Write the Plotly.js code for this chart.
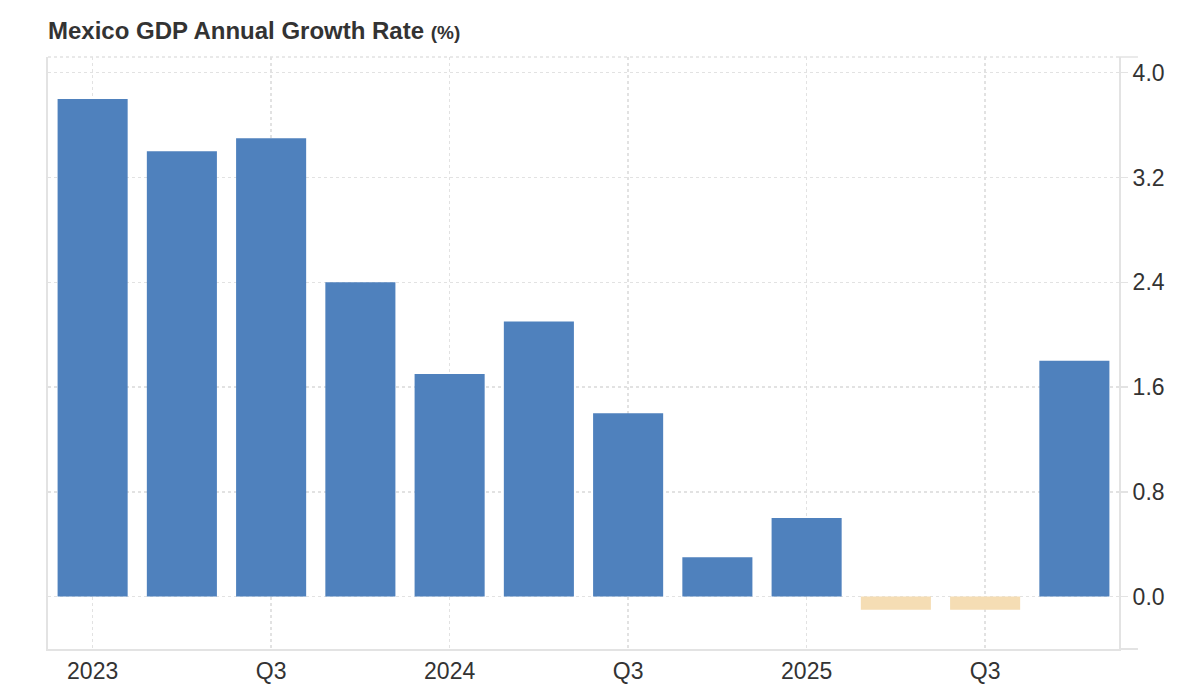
<!DOCTYPE html>
<html>
<head>
<meta charset="utf-8">
<script src="https://cdn.plot.ly/plotly-3.0.1.min.js"></script>
<style>
html,body{margin:0;padding:0;background:#fff;}
#chart{width:1200px;height:688px;}
</style>
</head>
<body>
<div id="chart"></div>
<script>
const quarters = ['2023 Q1','2023 Q2','2023 Q3','2023 Q4','2024 Q1','2024 Q2','2024 Q3','2024 Q4','2025 Q1','2025 Q2','2025 Q3','2025 Q4'];
const growth = [3.8, 3.4, 3.5, 2.4, 1.7, 2.1, 1.4, 0.3, 0.6, -0.1, -0.1, 1.8];
const tickQuarters = ['2023 Q1','2023 Q3','2024 Q1','2024 Q3','2025 Q1','2025 Q3'];
const tickLabels = ['2023','Q3','2024','Q3','2025','Q3'];
const yTicks = [0, 0.8, 1.6, 2.4, 3.2, 4.0];

const posColor = '#4F81BD';
const negColor = '#F5DDB4';
const gridC = '#e2e2e2';
const lineC = '#e3e3e3';

const trace = {
  type: 'bar',
  x: quarters,
  y: growth,
  marker: {color: growth.map(v => v < 0 ? negColor : posColor), line: {width: 0}},
  hoverinfo: 'x+y'
};

const layout = {
  width: 1200, height: 688,
  margin: {l: 48, r: 81, t: 57, b: 39},
  paper_bgcolor: '#fff', plot_bgcolor: '#fff',
  bargap: 0.215,
  showlegend: false,
  font: {family: 'Liberation Sans, Arial, sans-serif', color: '#333', size: 23},
  title: {
    text: '<b>Mexico GDP Annual Growth Rate</b> <b><span style="font-size:19px">(%)</span></b>',
    x: 0, xref: 'paper', xanchor: 'left',
    y: 1, yref: 'container', yanchor: 'top', pad: {t: 22},
    font: {family: 'Liberation Sans, Arial, sans-serif', size: 24, color: '#333'}
  },
  xaxis: {
    type: 'category',
    tickmode: 'array', tickvals: tickQuarters, ticktext: tickLabels,
    showgrid: true, gridcolor: gridC, griddash: 'dot', gridwidth: 1.5,
    showline: true, linecolor: lineC, linewidth: 2,
    ticks: '', ticklabelstandoff: 0,
    zeroline: false, fixedrange: true
  },
  yaxis: {
    side: 'right',
    range: [-0.4, 4.12],
    tickmode: 'array', tickvals: yTicks, ticktext: yTicks.map(v => v.toFixed(1)),
    showgrid: true, gridcolor: gridC, griddash: 'dot', gridwidth: 1.5,
    showline: true, linecolor: lineC, linewidth: 2, mirror: true,
    ticks: 'outside', ticklen: 7, tickcolor: lineC, tickwidth: 1.5,
    zeroline: false, fixedrange: true
  },
  shapes: [
    {type: 'line', xref: 'paper', yref: 'paper', x0: 0, x1: 1, y0: 1, y1: 1,
     line: {color: gridC, width: 1.5, dash: 'dot'}},
    {type: 'line', xref: 'paper', yref: 'paper', x0: 1, x1: 1.0177, y0: 0, y1: 0,
     line: {color: lineC, width: 2}},
    {type: 'line', xref: 'paper', yref: 'paper', x0: 1, x1: 1.0177, y0: 1, y1: 1,
     line: {color: lineC, width: 1.5}}
  ]
};

Plotly.newPlot('chart', [trace], layout, {displayModeBar: false, staticPlot: true});
</script>
</body>
</html>
